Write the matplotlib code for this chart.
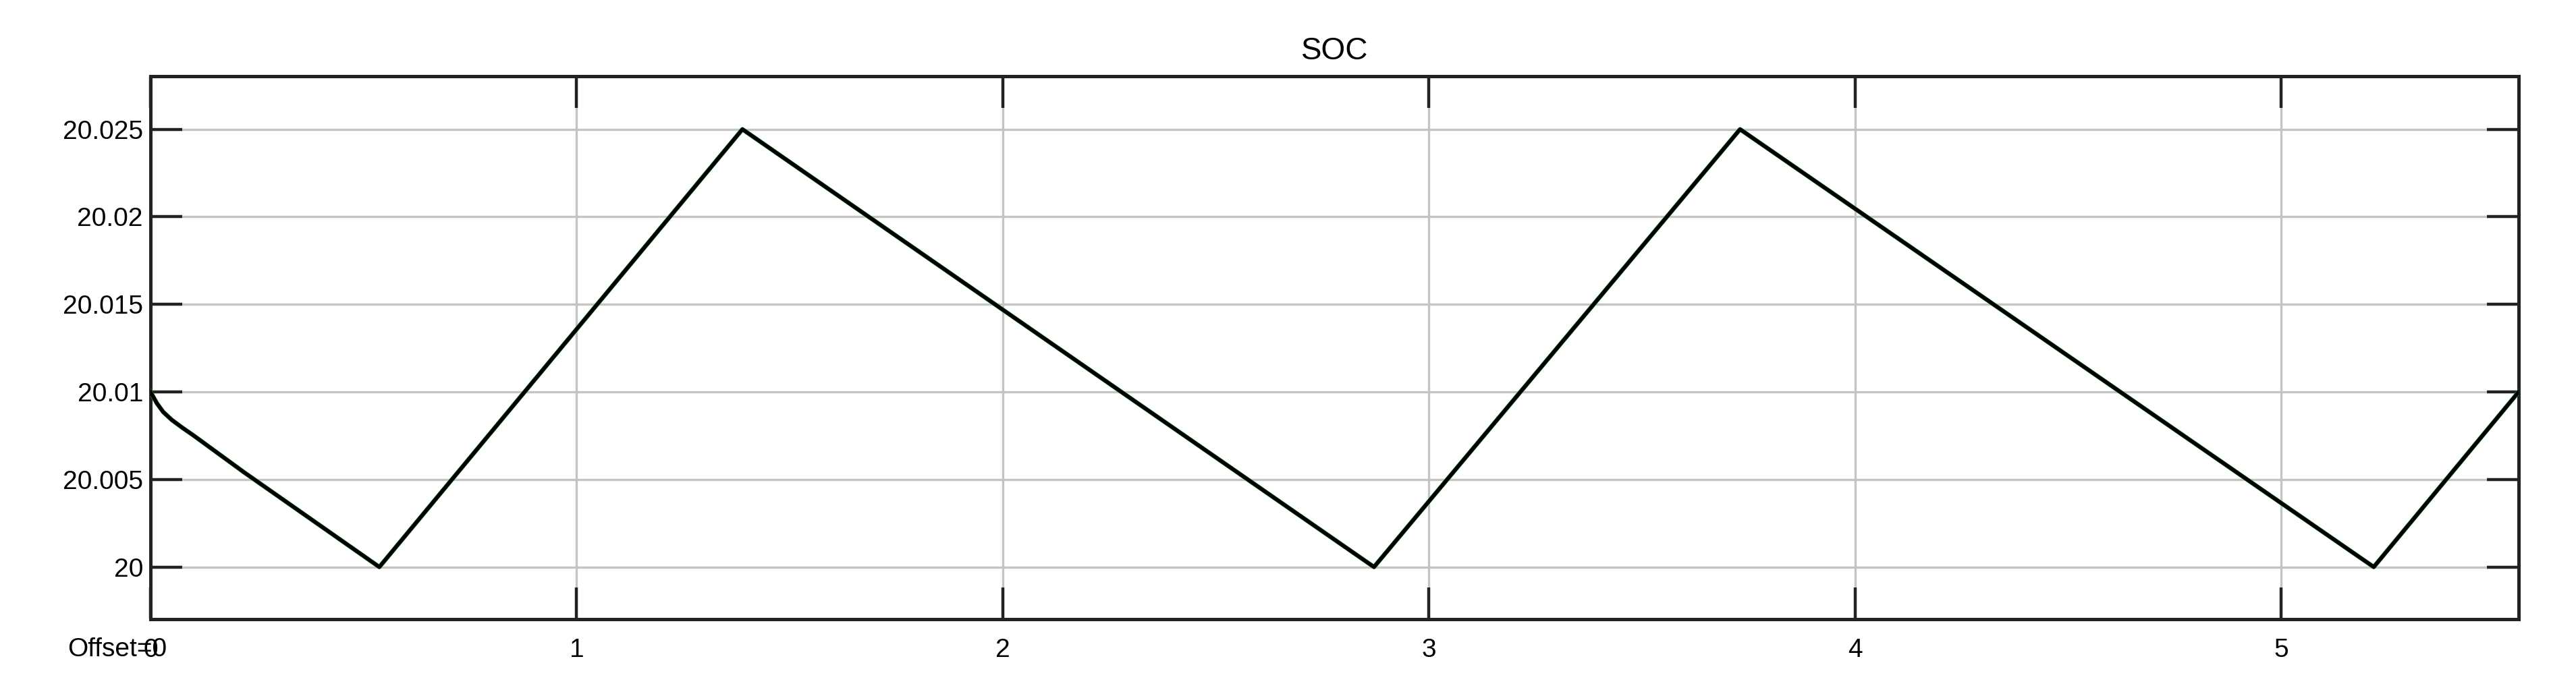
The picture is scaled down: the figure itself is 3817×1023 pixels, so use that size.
import matplotlib
matplotlib.use("Agg")
import matplotlib.pyplot as plt

# SOC trace (time, value)
t = [0.0, 0.015, 0.03, 0.05, 0.075, 0.10, 0.22, 0.537, 1.389, 2.871, 3.730, 5.217, 5.557]
soc = [20.0100, 20.00935, 20.00885, 20.00840, 20.00795, 20.00753, 20.00540, 20.0000,
       20.0250, 20.0000, 20.0250, 20.0000, 20.0100]

x_ticks = [0, 1, 2, 3, 4, 5]
x_labels = ["0", "1", "2", "3", "4", "5"]
y_ticks = [20.0, 20.005, 20.01, 20.015, 20.02, 20.025]
y_labels = ["20", "20.005", "20.01", "20.015", "20.02", "20.025"]

plt.rcParams["font.family"] = ["Liberation Sans", "DejaVu Sans"]

fig = plt.figure(figsize=(38.17, 10.23), dpi=100)
ax = fig.add_axes([223 / 3817, 1 - 918 / 1023, (3732 - 223) / 3817, (918 - 113) / 1023])

# green fringe under the black trace, like the scope rendering
ax.plot(t, soc, color="#2f9e44", lw=4.8, zorder=3)
ax.plot(t, soc, color="black", lw=4.0, zorder=4)

ax.set_xlim(0, 5.557)
ax.set_ylim(19.99702, 20.02803)
ax.set_xticks(x_ticks)
ax.set_xticklabels(x_labels)
ax.set_yticks(y_ticks)
ax.set_yticklabels(y_labels)

ax.tick_params(direction="in", length=34, width=3.2, color="#222222",
               labelsize=28, top=True, right=True)
ax.tick_params(axis="x", pad=20)
ax.tick_params(axis="y", pad=8)
ax.grid(True, color="#c4c4c4", lw=2.4)
ax.set_axisbelow(True)
for s in ax.spines.values():
    s.set_linewidth(3.6)
    s.set_color("#222222")

ax.set_title("SOC", fontsize=33, pad=18)
fig.text(100 / 3817, 1 - 963 / 1023, "Offset=0", fontsize=28, va="center", ha="left")

fig.savefig("out.png", dpi=100, facecolor="white")
